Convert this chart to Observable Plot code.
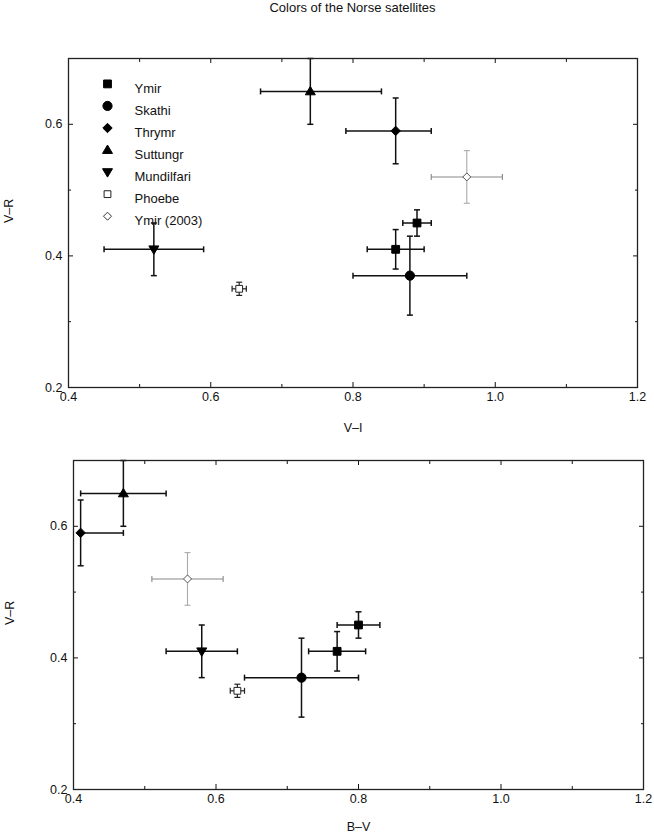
<!DOCTYPE html>
<html>
<head>
<meta charset="utf-8">
<script src="https://cdn.jsdelivr.net/npm/d3@7"></script>
<script src="https://cdn.jsdelivr.net/npm/@observablehq/plot@0.6"></script>
<style>
  html, body { margin: 0; padding: 0; background: #fff; }
  #wrap { position: relative; width: 654px; height: 838px; font-family: "Liberation Sans", Arial, Helvetica, sans-serif; }
  #title { position: absolute; z-index: 2; top: 1px; left: 68px; width: 569px; text-align: center; font-size: 13px; line-height: 14px; color: #111; }
  .panel { position: absolute; left: 0; z-index: 1; }
</style>
</head>
<body>
<div id="wrap">
  <div id="p1" class="panel" style="top:0px"></div>
  <div id="p2" class="panel" style="top:445px"></div>
  <div id="title">Colors of the Norse satellites</div>
</div>
<script>
// ---- data ----
const names = ["Ymir", "Ymir", "Skathi", "Thrymr", "Suttungr", "Mundilfari", "Phoebe", "Ymir (2003)"];
const vi    = [0.89, 0.86, 0.88, 0.86, 0.74, 0.52, 0.64, 0.96];
const viLo  = [0.87, 0.82, 0.80, 0.79, 0.67, 0.45, 0.63, 0.91];
const viHi  = [0.91, 0.90, 0.96, 0.91, 0.84, 0.59, 0.65, 1.01];
const vr    = [0.45, 0.41, 0.37, 0.59, 0.65, 0.41, 0.35, 0.52];
const vrLo  = [0.43, 0.38, 0.31, 0.54, 0.60, 0.37, 0.34, 0.48];
const vrHi  = [0.47, 0.44, 0.43, 0.64, 0.70, 0.45, 0.36, 0.56];
const bv    = [0.80, 0.77, 0.72, 0.41, 0.47, 0.58, 0.63, 0.56];
const bvLo  = [0.77, 0.73, 0.64, 0.41, 0.41, 0.53, 0.62, 0.51];
const bvHi  = [0.83, 0.81, 0.80, 0.47, 0.53, 0.63, 0.64, 0.61];
const legendNames = ["Ymir", "Skathi", "Thrymr", "Suttungr", "Mundilfari", "Phoebe", "Ymir (2003)"];
const xMajor = [0.4, 0.6, 0.8, 1.0, 1.2];
const xMinor = [0.5, 0.7, 0.9, 1.1];
const yMajor = [0.2, 0.4, 0.6];
const yMinor = [0.3, 0.5];

const rows = names.map((n, i) => ({
  name: n, vi: vi[i], viLo: viLo[i], viHi: viHi[i],
  vr: vr[i], vrLo: vrLo[i], vrHi: vrHi[i],
  bv: bv[i], bvLo: bvLo[i], bvHi: bvHi[i]
}));

// ---- custom symbols (fixed pixel sizes) ----
const sym = {
  square: {draw(c) { const h = 3.9; c.rect(-h, -h, 2 * h, 2 * h); }},
  openSquare: {draw(c) { const h = 3.4; c.rect(-h, -h, 2 * h, 2 * h); }},
  circle: {draw(c) { c.moveTo(4.6, 0); c.arc(0, 0, 4.6, 0, 2 * Math.PI); }},
  diamond: {draw(c) { const h = 4.7; c.moveTo(0, -h); c.lineTo(h, 0); c.lineTo(0, h); c.lineTo(-h, 0); c.closePath(); }},
  openDiamond: {draw(c) { const h = 4.0; c.moveTo(0, -h); c.lineTo(h, 0); c.lineTo(0, h); c.lineTo(-h, 0); c.closePath(); }},
  triUp: {draw(c) { c.moveTo(0, -5); c.lineTo(5, 3.4); c.lineTo(-5, 3.4); c.closePath(); }},
  triDown: {draw(c) { c.moveTo(0, 5); c.lineTo(5, -3.4); c.lineTo(-5, -3.4); c.closePath(); }},
  vcap: {draw(c) { c.moveTo(0, -3); c.lineTo(0, 3); }},
  hcap: {draw(c) { c.moveTo(-3, 0); c.lineTo(3, 0); }}
};
const look = {
  "Ymir":        {symbol: sym.square,      fill: "black", stroke: "black", sw: 1,   hbar: "#111", vbar: "#111", bw: 1.5},
  "Skathi":      {symbol: sym.circle,      fill: "black", stroke: "black", sw: 1,   hbar: "#111", vbar: "#111", bw: 1.5},
  "Thrymr":      {symbol: sym.diamond,     fill: "black", stroke: "black", sw: 1,   hbar: "#111", vbar: "#111", bw: 1.5},
  "Suttungr":    {symbol: sym.triUp,       fill: "black", stroke: "black", sw: 1,   hbar: "#111", vbar: "#111", bw: 1.5},
  "Mundilfari":  {symbol: sym.triDown,     fill: "black", stroke: "black", sw: 1,   hbar: "#111", vbar: "#111", bw: 1.5},
  "Phoebe":      {symbol: sym.openSquare,  fill: "white", stroke: "#222",  sw: 1,   hbar: "#222", vbar: "#222", bw: 1.2},
  "Ymir (2003)": {symbol: sym.openDiamond, fill: "white", stroke: "#555",  sw: 1,   hbar: "#888", vbar: "#aaa", bw: 1.1}
};

const fmt = d3.format(".1f");
const FONT = "\"Liberation Sans\", Arial, Helvetica, sans-serif";

function panel({xk, xlabel, height, mt, mb, ml, mr, xlabDy, ylabDx, legend}) {
  const marks = [];
  // error bars
  for (const name of legendNames) {
    const L = look[name];
    const data = rows.filter(d => d.name === name);
    marks.push(
      Plot.link(data, {x1: xk + "Lo", x2: xk + "Hi", y1: "vr", y2: "vr", stroke: L.hbar, strokeWidth: L.bw}),
      Plot.link(data, {x1: xk, x2: xk, y1: "vrLo", y2: "vrHi", stroke: L.vbar, strokeWidth: L.bw}),
      Plot.dot(data, {x: xk + "Lo", y: "vr", symbol: sym.vcap, r: 3, stroke: L.hbar, strokeWidth: L.bw, fill: "none"}),
      Plot.dot(data, {x: xk + "Hi", y: "vr", symbol: sym.vcap, r: 3, stroke: L.hbar, strokeWidth: L.bw, fill: "none"}),
      Plot.dot(data, {x: xk, y: "vrLo", symbol: sym.hcap, r: 3, stroke: L.vbar, strokeWidth: L.bw, fill: "none"}),
      Plot.dot(data, {x: xk, y: "vrHi", symbol: sym.hcap, r: 3, stroke: L.vbar, strokeWidth: L.bw, fill: "none"})
    );
  }
  // markers
  for (const name of legendNames) {
    const L = look[name];
    const data = rows.filter(d => d.name === name);
    marks.push(Plot.dot(data, {x: xk, y: "vr", symbol: L.symbol, r: 4, fill: L.fill, stroke: L.stroke, strokeWidth: L.sw}));
  }
  // legend
  if (legend) {
    legendNames.forEach((name, i) => {
      const L = look[name];
      const dy = 25.4 + 22.05 * i;
      marks.push(
        Plot.dot([name], {frameAnchor: "top-left", dx: 39, dy, symbol: L.symbol, r: 4, fill: L.fill, stroke: name === "Ymir (2003)" ? "#333" : L.stroke, strokeWidth: L.sw}),
        Plot.text([name], {frameAnchor: "top-left", dx: 66, dy, text: d => d, textAnchor: "start", fontSize: 13, fill: "#111"})
      );
    });
  }
  // axes: labels + inward ticks on all sides
  marks.push(
    Plot.axisX(xMajor, {anchor: "bottom", tickSize: 0, tickPadding: 5, tickFormat: fmt, label: null, fontSize: 12.5}),
    Plot.axisY(yMajor, {anchor: "left", tickSize: 0, tickPadding: 6, tickFormat: fmt, label: null, fontSize: 12.5}),
    Plot.axisX(xMajor, {anchor: "bottom", tickSize: -5, tickFormat: () => "", label: null}),
    Plot.axisX(xMinor, {anchor: "bottom", tickSize: -3, tickFormat: () => "", label: null}),
    Plot.axisX(xMajor, {anchor: "top", tickSize: -4, tickFormat: () => "", label: null}),
    Plot.axisX(xMinor, {anchor: "top", tickSize: -3, tickFormat: () => "", label: null}),
    Plot.axisY(yMajor, {anchor: "left", tickSize: -5, tickFormat: () => "", label: null}),
    Plot.axisY(yMinor, {anchor: "left", tickSize: -3, tickFormat: () => "", label: null}),
    Plot.axisY(yMajor, {anchor: "right", tickSize: -5, tickFormat: () => "", label: null}),
    Plot.axisY(yMinor, {anchor: "right", tickSize: -3, tickFormat: () => "", label: null}),
    Plot.frame({stroke: "#222", strokeWidth: 1.3}),
    Plot.text([xlabel], {frameAnchor: "bottom", dy: xlabDy, text: d => d, fontSize: 12.5, fill: "#111"}),
    Plot.text(["V\u2013R"], {frameAnchor: "left", dx: ylabDx, rotate: -90, text: d => d, fontSize: 12.5, fill: "#111"})
  );
  return Plot.plot({
    width: 654, height,
    marginTop: mt, marginBottom: mb, marginLeft: ml, marginRight: mr,
    x: {domain: [0.4, 1.2], label: null},
    y: {domain: [0.2, 0.7], label: null},
    style: {fontFamily: FONT, fontSize: "12.5px", color: "#111", background: "transparent", overflow: "visible"},
    marks
  });
}

document.getElementById("p1").append(panel({
  xk: "vi", xlabel: "V\u2013I", height: 445, mt: 58, mb: 58, ml: 68, mr: 17, xlabDy: 44, ylabDx: -60, legend: true
}));
document.getElementById("p2").append(panel({
  xk: "bv", xlabel: "B\u2013V", height: 393, mt: 15, mb: 49, ml: 73, mr: 11, xlabDy: 41, ylabDx: -64, legend: false
}));
</script>
</body>
</html>
